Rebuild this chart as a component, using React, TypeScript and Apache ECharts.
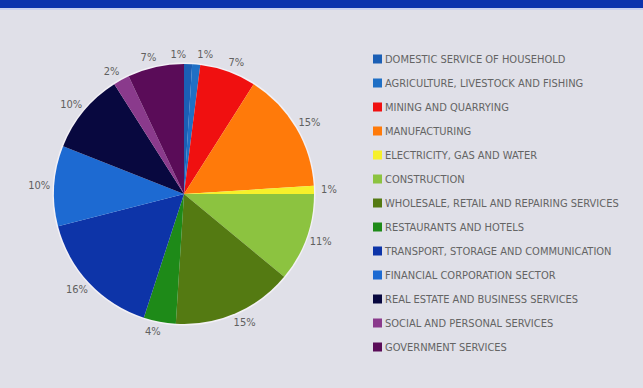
import React, { useEffect, useRef } from "react";
import * as echarts from "echarts";

const categories = [
  "DOMESTIC SERVICE OF HOUSEHOLD",
  "AGRICULTURE, LIVESTOCK AND FISHING",
  "MINING AND QUARRYING",
  "MANUFACTURING",
  "ELECTRICITY, GAS AND WATER",
  "CONSTRUCTION",
  "WHOLESALE, RETAIL AND REPAIRING SERVICES",
  "RESTAURANTS AND HOTELS",
  "TRANSPORT, STORAGE AND COMMUNICATION",
  "FINANCIAL CORPORATION SECTOR",
  "REAL ESTATE AND BUSINESS SERVICES",
  "SOCIAL AND PERSONAL SERVICES",
  "GOVERNMENT SERVICES",
];

const values = [1, 1, 7, 15, 1, 11, 15, 4, 16, 10, 10, 2, 7];

const colors = [
  "#1b5fb5",
  "#1f6fc5",
  "#f01010",
  "#ff7a0a",
  "#f6f02a",
  "#8cc340",
  "#547a12",
  "#1e8a18",
  "#0d34a8",
  "#1d6ad2",
  "#08083f",
  "#8a3a8c",
  "#5a0c58",
];

const FONT = "'Liberation Sans Narrow', 'DejaVu Sans Condensed', 'Noto Sans', sans-serif";

export default function App() {
  const ref = useRef<HTMLDivElement>(null);
  useEffect(() => {
    if (!ref.current) return;
    const chart = echarts.init(ref.current, null, { renderer: "svg" });
    chart.setOption({
      animation: false,
      backgroundColor: "#e0e0e8",
      color: colors,
      graphic: [
        {
          type: "rect",
          shape: { x: 0, y: 0, width: 643, height: 8 },
          style: { fill: "#0b33ad" },
        },
        {
          type: "rect",
          shape: { x: 0, y: 8, width: 643, height: 2 },
          style: { fill: "#c8d0ee" },
        },
      ],
      legend: {
        orient: "vertical",
        left: 368,
        top: 48,
        itemWidth: 9,
        itemHeight: 9,
        itemGap: 12,
        icon: "rect",
        data: categories,
        selectedMode: false,
        textStyle: {
          color: "#646464",
          fontSize: 11,
          lineHeight: 12,
          fontFamily: FONT,
          padding: [0, 0, 0, -2],
        },
      },
      series: [
        {
          type: "pie",
          name: "rim",
          center: [184, 194],
          radius: 131.5,
          silent: true,
          z: 1,
          label: { show: false },
          labelLine: { show: false },
          itemStyle: { color: "#f3f1f6" },
          data: [{ name: "", value: 1 }],
        },
        {
          type: "pie",
          center: [184, 194],
          radius: 130,
          startAngle: 90,
          clockwise: true,
          z: 2,
          avoidLabelOverlap: false,
          data: categories.map((name, i) => ({ name, value: values[i] })),
          label: {
            show: true,
            position: "outside",
            formatter: "{c}%",
            color: "#606060",
            fontSize: 11,
            fontFamily: FONT,
          },
          labelLine: { show: false, length: 10, length2: 0 },
          labelLayout: (params: any) => {
            const base: any = { align: "center", verticalAlign: "middle" };
            if (params.dataIndex === 0) return { ...base, dx: -15 };
            if (params.dataIndex === 1) return { ...base, dx: 3 };
            return base;
          },
          itemStyle: { borderWidth: 0 },
          emphasis: { disabled: true },
        },
      ],
    });
    return () => chart.dispose();
  }, []);
  return (
    <div
      ref={ref}
      style={{ position: "fixed", left: 0, top: 0, width: 643, height: 388 }}
    />
  );
}
